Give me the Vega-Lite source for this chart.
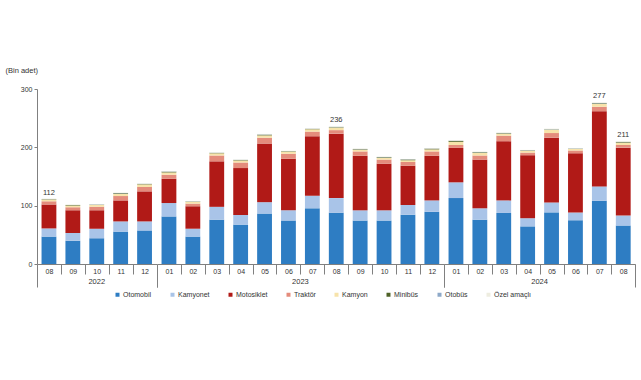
{
  "$schema": "https://vega.github.io/schema/vega-lite/v6.json",
  "padding": {"left": 5, "top": 66, "right": 5, "bottom": 5},
  "background": "white",
  "config": {
    "font": "Liberation Sans",
    "view": {"stroke": null},
    "axis": {"grid": false}
  },
  "data": {"values": [
    {"year":"2022","m":"2022-08","c":"Otomobil","v":47},{"year":"2022","m":"2022-08","c":"Kamyonet","v":14},{"year":"2022","m":"2022-08","c":"Motosiklet","v":41},{"year":"2022","m":"2022-08","c":"Traktör","v":5.5},{"year":"2022","m":"2022-08","c":"Kamyon","v":3.2},{"year":"2022","m":"2022-08","c":"Minibüs","v":0.5},{"year":"2022","m":"2022-08","c":"Otobüs","v":0.3},{"year":"2022","m":"2022-08","c":"Özel amaçlı","v":0.5},
    {"year":"2022","m":"2022-09","c":"Otomobil","v":40},{"year":"2022","m":"2022-09","c":"Kamyonet","v":13},{"year":"2022","m":"2022-09","c":"Motosiklet","v":39},{"year":"2022","m":"2022-09","c":"Traktör","v":5.5},{"year":"2022","m":"2022-09","c":"Kamyon","v":3},{"year":"2022","m":"2022-09","c":"Minibüs","v":0.5},{"year":"2022","m":"2022-09","c":"Otobüs","v":0.3},{"year":"2022","m":"2022-09","c":"Özel amaçlı","v":0.5},
    {"year":"2022","m":"2022-10","c":"Otomobil","v":44},{"year":"2022","m":"2022-10","c":"Kamyonet","v":16.5},{"year":"2022","m":"2022-10","c":"Motosiklet","v":31.5},{"year":"2022","m":"2022-10","c":"Traktör","v":6},{"year":"2022","m":"2022-10","c":"Kamyon","v":3},{"year":"2022","m":"2022-10","c":"Minibüs","v":0.5},{"year":"2022","m":"2022-10","c":"Otobüs","v":0.3},{"year":"2022","m":"2022-10","c":"Özel amaçlı","v":0.5},
    {"year":"2022","m":"2022-11","c":"Otomobil","v":55.5},{"year":"2022","m":"2022-11","c":"Kamyonet","v":17.5},{"year":"2022","m":"2022-11","c":"Motosiklet","v":36},{"year":"2022","m":"2022-11","c":"Traktör","v":7.5},{"year":"2022","m":"2022-11","c":"Kamyon","v":3.5},{"year":"2022","m":"2022-11","c":"Minibüs","v":1.2},{"year":"2022","m":"2022-11","c":"Otobüs","v":0.4},{"year":"2022","m":"2022-11","c":"Özel amaçlı","v":0.8},
    {"year":"2022","m":"2022-12","c":"Otomobil","v":57.5},{"year":"2022","m":"2022-12","c":"Kamyonet","v":15.5},{"year":"2022","m":"2022-12","c":"Motosiklet","v":51.5},{"year":"2022","m":"2022-12","c":"Traktör","v":7.5},{"year":"2022","m":"2022-12","c":"Kamyon","v":4.5},{"year":"2022","m":"2022-12","c":"Minibüs","v":0.6},{"year":"2022","m":"2022-12","c":"Otobüs","v":0.4},{"year":"2022","m":"2022-12","c":"Özel amaçlı","v":0.8},
    {"year":"2023","m":"2023-01","c":"Otomobil","v":81.5},{"year":"2023","m":"2023-01","c":"Kamyonet","v":23},{"year":"2023","m":"2023-01","c":"Motosiklet","v":41.5},{"year":"2023","m":"2023-01","c":"Traktör","v":7},{"year":"2023","m":"2023-01","c":"Kamyon","v":4},{"year":"2023","m":"2023-01","c":"Minibüs","v":1.2},{"year":"2023","m":"2023-01","c":"Otobüs","v":0.5},{"year":"2023","m":"2023-01","c":"Özel amaçlı","v":0.8},
    {"year":"2023","m":"2023-02","c":"Otomobil","v":47},{"year":"2023","m":"2023-02","c":"Kamyonet","v":13.5},{"year":"2023","m":"2023-02","c":"Motosiklet","v":38.5},{"year":"2023","m":"2023-02","c":"Traktör","v":4.5},{"year":"2023","m":"2023-02","c":"Kamyon","v":3},{"year":"2023","m":"2023-02","c":"Minibüs","v":0.6},{"year":"2023","m":"2023-02","c":"Otobüs","v":0.3},{"year":"2023","m":"2023-02","c":"Özel amaçlı","v":0.6},
    {"year":"2023","m":"2023-03","c":"Otomobil","v":76},{"year":"2023","m":"2023-03","c":"Kamyonet","v":22},{"year":"2023","m":"2023-03","c":"Motosiklet","v":78},{"year":"2023","m":"2023-03","c":"Traktör","v":10},{"year":"2023","m":"2023-03","c":"Kamyon","v":3.8},{"year":"2023","m":"2023-03","c":"Minibüs","v":0.6},{"year":"2023","m":"2023-03","c":"Otobüs","v":0.4},{"year":"2023","m":"2023-03","c":"Özel amaçlı","v":0.8},
    {"year":"2023","m":"2023-04","c":"Otomobil","v":67.5},{"year":"2023","m":"2023-04","c":"Kamyonet","v":16.5},{"year":"2023","m":"2023-04","c":"Motosiklet","v":80.5},{"year":"2023","m":"2023-04","c":"Traktör","v":9.5},{"year":"2023","m":"2023-04","c":"Kamyon","v":3.5},{"year":"2023","m":"2023-04","c":"Minibüs","v":0.7},{"year":"2023","m":"2023-04","c":"Otobüs","v":0.4},{"year":"2023","m":"2023-04","c":"Özel amaçlı","v":0.8},
    {"year":"2023","m":"2023-05","c":"Otomobil","v":86.5},{"year":"2023","m":"2023-05","c":"Kamyonet","v":19.5},{"year":"2023","m":"2023-05","c":"Motosiklet","v":100.5},{"year":"2023","m":"2023-05","c":"Traktör","v":10},{"year":"2023","m":"2023-05","c":"Kamyon","v":4},{"year":"2023","m":"2023-05","c":"Minibüs","v":1.2},{"year":"2023","m":"2023-05","c":"Otobüs","v":0.5},{"year":"2023","m":"2023-05","c":"Özel amaçlı","v":0.8},
    {"year":"2023","m":"2023-06","c":"Otomobil","v":74.5},{"year":"2023","m":"2023-06","c":"Kamyonet","v":17.5},{"year":"2023","m":"2023-06","c":"Motosiklet","v":88.5},{"year":"2023","m":"2023-06","c":"Traktör","v":8.5},{"year":"2023","m":"2023-06","c":"Kamyon","v":3.5},{"year":"2023","m":"2023-06","c":"Minibüs","v":0.6},{"year":"2023","m":"2023-06","c":"Otobüs","v":0.4},{"year":"2023","m":"2023-06","c":"Özel amaçlı","v":0.8},
    {"year":"2023","m":"2023-07","c":"Otomobil","v":95.5},{"year":"2023","m":"2023-07","c":"Kamyonet","v":21.5},{"year":"2023","m":"2023-07","c":"Motosiklet","v":102},{"year":"2023","m":"2023-07","c":"Traktör","v":8},{"year":"2023","m":"2023-07","c":"Kamyon","v":4},{"year":"2023","m":"2023-07","c":"Minibüs","v":0.6},{"year":"2023","m":"2023-07","c":"Otobüs","v":0.4},{"year":"2023","m":"2023-07","c":"Özel amaçlı","v":0.8},
    {"year":"2023","m":"2023-08","c":"Otomobil","v":88},{"year":"2023","m":"2023-08","c":"Kamyonet","v":25},{"year":"2023","m":"2023-08","c":"Motosiklet","v":110.5},{"year":"2023","m":"2023-08","c":"Traktör","v":6},{"year":"2023","m":"2023-08","c":"Kamyon","v":4.5},{"year":"2023","m":"2023-08","c":"Minibüs","v":0.6},{"year":"2023","m":"2023-08","c":"Otobüs","v":0.5},{"year":"2023","m":"2023-08","c":"Özel amaçlı","v":0.9},
    {"year":"2023","m":"2023-09","c":"Otomobil","v":74.5},{"year":"2023","m":"2023-09","c":"Kamyonet","v":17.5},{"year":"2023","m":"2023-09","c":"Motosiklet","v":93.5},{"year":"2023","m":"2023-09","c":"Traktör","v":7.5},{"year":"2023","m":"2023-09","c":"Kamyon","v":3},{"year":"2023","m":"2023-09","c":"Minibüs","v":0.8},{"year":"2023","m":"2023-09","c":"Otobüs","v":0.4},{"year":"2023","m":"2023-09","c":"Özel amaçlı","v":0.8},
    {"year":"2023","m":"2023-10","c":"Otomobil","v":74.5},{"year":"2023","m":"2023-10","c":"Kamyonet","v":17.5},{"year":"2023","m":"2023-10","c":"Motosiklet","v":80},{"year":"2023","m":"2023-10","c":"Traktör","v":7},{"year":"2023","m":"2023-10","c":"Kamyon","v":3},{"year":"2023","m":"2023-10","c":"Minibüs","v":1},{"year":"2023","m":"2023-10","c":"Otobüs","v":0.4},{"year":"2023","m":"2023-10","c":"Özel amaçlı","v":0.8},
    {"year":"2023","m":"2023-11","c":"Otomobil","v":84.5},{"year":"2023","m":"2023-11","c":"Kamyonet","v":16.5},{"year":"2023","m":"2023-11","c":"Motosiklet","v":67.5},{"year":"2023","m":"2023-11","c":"Traktör","v":6.5},{"year":"2023","m":"2023-11","c":"Kamyon","v":3},{"year":"2023","m":"2023-11","c":"Minibüs","v":1},{"year":"2023","m":"2023-11","c":"Otobüs","v":0.4},{"year":"2023","m":"2023-11","c":"Özel amaçlı","v":0.8},
    {"year":"2023","m":"2023-12","c":"Otomobil","v":89.5},{"year":"2023","m":"2023-12","c":"Kamyonet","v":19.5},{"year":"2023","m":"2023-12","c":"Motosiklet","v":76.5},{"year":"2023","m":"2023-12","c":"Traktör","v":7.5},{"year":"2023","m":"2023-12","c":"Kamyon","v":3.5},{"year":"2023","m":"2023-12","c":"Minibüs","v":1.2},{"year":"2023","m":"2023-12","c":"Otobüs","v":0.4},{"year":"2023","m":"2023-12","c":"Özel amaçlı","v":0.8},
    {"year":"2024","m":"2024-01","c":"Otomobil","v":113},{"year":"2024","m":"2024-01","c":"Kamyonet","v":27},{"year":"2024","m":"2024-01","c":"Motosiklet","v":59},{"year":"2024","m":"2024-01","c":"Traktör","v":5},{"year":"2024","m":"2024-01","c":"Kamyon","v":5.5},{"year":"2024","m":"2024-01","c":"Minibüs","v":1.5},{"year":"2024","m":"2024-01","c":"Otobüs","v":0.5},{"year":"2024","m":"2024-01","c":"Özel amaçlı","v":1},
    {"year":"2024","m":"2024-02","c":"Otomobil","v":76},{"year":"2024","m":"2024-02","c":"Kamyonet","v":19.5},{"year":"2024","m":"2024-02","c":"Motosiklet","v":83.5},{"year":"2024","m":"2024-02","c":"Traktör","v":7},{"year":"2024","m":"2024-02","c":"Kamyon","v":4.5},{"year":"2024","m":"2024-02","c":"Minibüs","v":1},{"year":"2024","m":"2024-02","c":"Otobüs","v":0.4},{"year":"2024","m":"2024-02","c":"Özel amaçlı","v":0.8},
    {"year":"2024","m":"2024-03","c":"Otomobil","v":87.5},{"year":"2024","m":"2024-03","c":"Kamyonet","v":21.5},{"year":"2024","m":"2024-03","c":"Motosiklet","v":101.5},{"year":"2024","m":"2024-03","c":"Traktör","v":9.5},{"year":"2024","m":"2024-03","c":"Kamyon","v":3.5},{"year":"2024","m":"2024-03","c":"Minibüs","v":0.8},{"year":"2024","m":"2024-03","c":"Otobüs","v":0.4},{"year":"2024","m":"2024-03","c":"Özel amaçlı","v":0.8},
    {"year":"2024","m":"2024-04","c":"Otomobil","v":64.5},{"year":"2024","m":"2024-04","c":"Kamyonet","v":14},{"year":"2024","m":"2024-04","c":"Motosiklet","v":108},{"year":"2024","m":"2024-04","c":"Traktör","v":4.5},{"year":"2024","m":"2024-04","c":"Kamyon","v":2.8},{"year":"2024","m":"2024-04","c":"Minibüs","v":0.8},{"year":"2024","m":"2024-04","c":"Otobüs","v":0.4},{"year":"2024","m":"2024-04","c":"Özel amaçlı","v":0.6},
    {"year":"2024","m":"2024-05","c":"Otomobil","v":88.5},{"year":"2024","m":"2024-05","c":"Kamyonet","v":17},{"year":"2024","m":"2024-05","c":"Motosiklet","v":111},{"year":"2024","m":"2024-05","c":"Traktör","v":8},{"year":"2024","m":"2024-05","c":"Kamyon","v":5.5},{"year":"2024","m":"2024-05","c":"Minibüs","v":0.6},{"year":"2024","m":"2024-05","c":"Otobüs","v":0.4},{"year":"2024","m":"2024-05","c":"Özel amaçlı","v":1},
    {"year":"2024","m":"2024-06","c":"Otomobil","v":75},{"year":"2024","m":"2024-06","c":"Kamyonet","v":13.5},{"year":"2024","m":"2024-06","c":"Motosiklet","v":101.5},{"year":"2024","m":"2024-06","c":"Traktör","v":4.5},{"year":"2024","m":"2024-06","c":"Kamyon","v":2.5},{"year":"2024","m":"2024-06","c":"Minibüs","v":0.6},{"year":"2024","m":"2024-06","c":"Otobüs","v":0.3},{"year":"2024","m":"2024-06","c":"Özel amaçlı","v":0.6},
    {"year":"2024","m":"2024-07","c":"Otomobil","v":108.5},{"year":"2024","m":"2024-07","c":"Kamyonet","v":24.5},{"year":"2024","m":"2024-07","c":"Motosiklet","v":129},{"year":"2024","m":"2024-07","c":"Traktör","v":7.5},{"year":"2024","m":"2024-07","c":"Kamyon","v":5},{"year":"2024","m":"2024-07","c":"Minibüs","v":1},{"year":"2024","m":"2024-07","c":"Otobüs","v":0.5},{"year":"2024","m":"2024-07","c":"Özel amaçlı","v":1},
    {"year":"2024","m":"2024-08","c":"Otomobil","v":66},{"year":"2024","m":"2024-08","c":"Kamyonet","v":17},{"year":"2024","m":"2024-08","c":"Motosiklet","v":116.5},{"year":"2024","m":"2024-08","c":"Traktör","v":4.5},{"year":"2024","m":"2024-08","c":"Kamyon","v":4},{"year":"2024","m":"2024-08","c":"Minibüs","v":1},{"year":"2024","m":"2024-08","c":"Otobüs","v":0.5},{"year":"2024","m":"2024-08","c":"Özel amaçlı","v":1.5}
  ]},
  "facet": {
    "column": {
      "field": "year", "type": "ordinal",
      "header": {"title": null, "labelOrient": "bottom", "labelFontSize": 7.5, "labelColor": "#333333", "labelPadding": 14}
    }
  },
  "spacing": 0,
  "bounds": "flush",
  "resolve": {"scale": {"x": "independent"}},
  "spec": {
    "width": {"step": 23.9},
    "height": 175,
    "layer": [
      {
        "transform": [
          {"calculate": "indexof(['Otomobil','Kamyonet','Motosiklet','Traktör','Kamyon','Minibüs','Otobüs','Özel amaçlı'], datum.c)", "as": "o"}
        ],
        "mark": {"type": "bar", "width": {"band": 0.62}},
        "encoding": {
          "x": {
            "field": "m", "type": "nominal", "title": null,
            "scale": {"paddingInner": 0, "paddingOuter": 0},
            "axis": {
              "title": null,
              "labelExpr": "datum.value ? substring(datum.value, 5) : ''",
              "labelAngle": 0,
              "labelFontSize": 7,
              "labelColor": "#333333",
              "tickBand": "extent",
              "tickSize": {"condition": {"test": "datum.index < 0 || datum.index >= 1", "value": 23}, "value": 10},
              "labelPadding": {"condition": {"test": "datum.index < 0 || datum.index >= 1", "value": -20}, "value": -7},
              "tickColor": "#808080",
              "domainColor": "#808080"
            }
          },
          "y": {
            "field": "v", "type": "quantitative",
            "scale": {"domain": [0, 300]},
            "axis": {
              "title": "(Bin adet)",
              "titleAngle": 0,
              "titleAlign": "left",
              "titleBaseline": "middle",
              "titleX": -32,
              "titleY": -19,
              "titleFontSize": 7.5,
              "titleFontWeight": "normal",
              "titleColor": "#333333",
              "values": [0, 50, 100, 150, 200, 250, 300],
              "labelFontSize": 7,
              "labelColor": "#333333",
              "tickSize": 3,
              "tickColor": "#808080",
              "domainColor": "#808080"
            }
          },
          "color": {
            "field": "c", "type": "nominal",
            "scale": {
              "domain": ["Otomobil", "Kamyonet", "Motosiklet", "Traktör", "Kamyon", "Minibüs", "Otobüs", "Özel amaçlı"],
              "range": ["#2E7DC3", "#A9C4E8", "#B11A17", "#E48C7C", "#F7E3AA", "#4F6228", "#8EA9C8", "#EEEDE0"]
            },
            "legend": {
              "title": null,
              "orient": "none",
              "direction": "horizontal",
              "legendX": 77,
              "legendY": 202,
              "columns": 8,
              "columnPadding": 17,
              "symbolType": "square",
              "symbolSize": 16,
              "symbolStrokeWidth": 0,
              "labelFontSize": 7,
              "labelColor": "#333333",
              "labelOffset": 2
            }
          },
          "order": {"field": "o", "type": "quantitative"}
        }
      },
      {
        "transform": [
          {"aggregate": [{"op": "sum", "field": "v", "as": "total"}], "groupby": ["m"]},
          {"filter": {"field": "m", "oneOf": ["2022-08", "2023-08", "2024-07", "2024-08"]}}
        ],
        "mark": {"type": "text", "dy": -6, "fontSize": 7.5, "color": "#333333"},
        "encoding": {
          "x": {"field": "m", "type": "nominal", "title": null},
          "y": {"field": "total", "type": "quantitative"},
          "text": {"field": "total", "type": "quantitative", "format": ".0f"}
        }
      }
    ]
  }
}
